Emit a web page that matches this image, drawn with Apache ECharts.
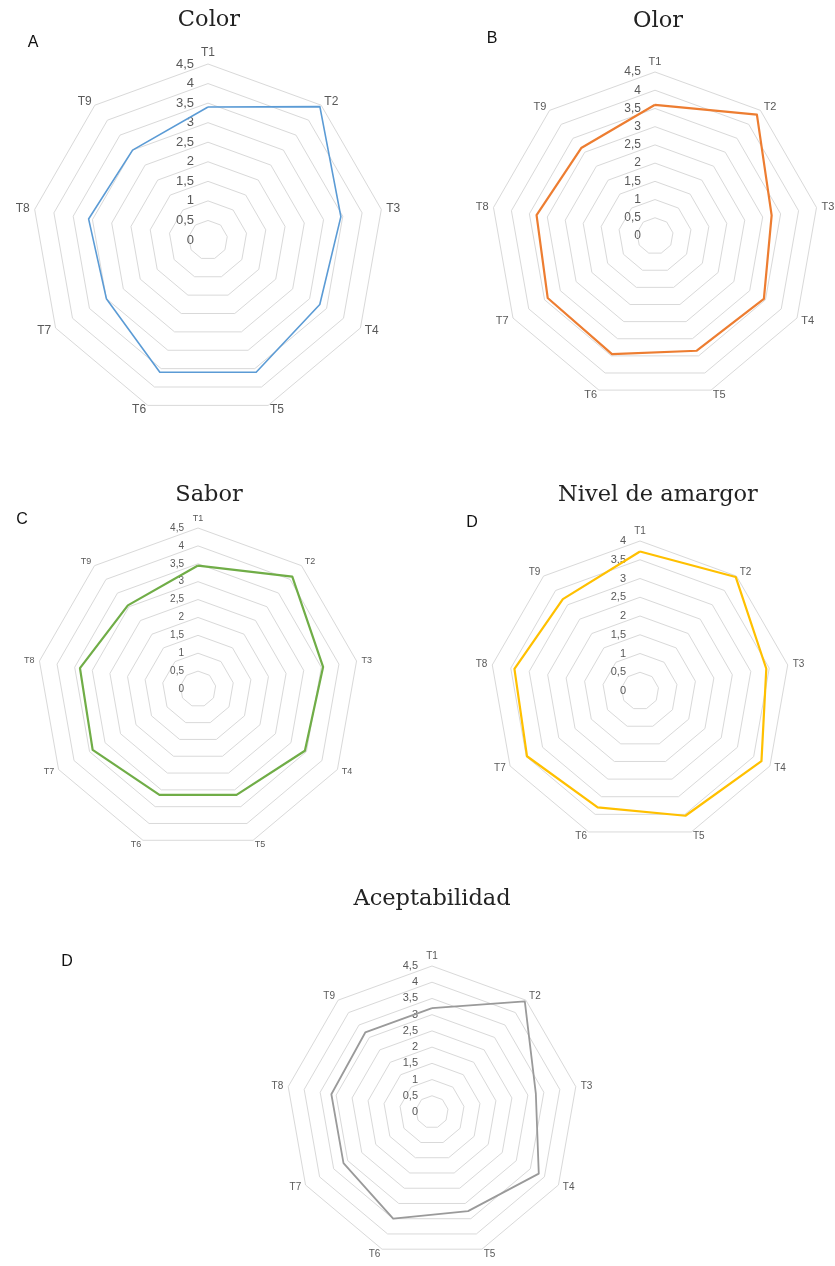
<!DOCTYPE html>
<html><head><meta charset="utf-8">
<script src="https://cdn.jsdelivr.net/npm/echarts@6/dist/echarts.min.js"></script>
<style>html,body{margin:0;padding:0;background:#fff}#c{width:835px;height:1266px}</style>
</head><body><div id="c"></div>
<script>
const categories = ['T1','T2','T3','T4','T5','T6','T7','T8','T9'];
const colorVals   = [3.4, 4.45, 3.45, 3.3, 3.6, 3.6, 3.0, 3.1, 3.0];
const olorVals    = [3.6, 4.35, 3.25, 3.45, 3.35, 3.45, 3.4, 3.3, 3.15];
const saborVals   = [3.45, 4.1, 3.55, 3.45, 3.15, 3.15, 3.4, 3.35, 3.05];
const amargorVals = [3.72, 3.97, 3.42, 3.74, 3.54, 3.3, 3.48, 3.4, 3.2];
const aceptVals   = [3.2, 4.45, 3.25, 3.8, 3.25, 3.5, 3.15, 3.15, 3.2];
const titles  = ['Color', 'Olor', 'Sabor', 'Nivel de amargor', 'Aceptabilidad'];
const letters = ['A', 'B', 'C', 'D', 'D'];
const axisMax = [4.5, 4.5, 4.5, 4, 4.5];
const seriesVals = [colorVals, olorVals, saborVals, amargorVals, aceptVals];

const panels = [
  {center:[208,240], r:176, nameSize:12, labelSize:13, color:'#5B9BD5', w:1.6, title:[209,20], letter:[33,43]},
  {center:[655,236], r:164, nameSize:11, labelSize:12, color:'#ED7D31', w:2.2, title:[658,21], letter:[492,39]},
  {center:[198,689], r:161, nameSize:9,  labelSize:10, color:'#70AD47', w:2.2, title:[209,495], letter:[22,520]},
  {center:[640,691], r:150, nameSize:10, labelSize:11, color:'#FFC000', w:2.2, title:[658,495], letter:[472,523]},
  {center:[432,1112], r:146, nameSize:10, labelSize:11, color:'#9a9a9a', w:1.8, title:[432,899], letter:[67,962]}
];

// ECharts draws radar axes counter-clockwise; reorder so T1..T9 run clockwise
const order = [0].concat(categories.map((_, k) => k).slice(1).reverse());
const fmt = v => String(v).replace('.', ',');
const radar = [], series = [], graphic = [];
panels.forEach((p, i) => {
  const steps = Math.round(axisMax[i] / 0.5);
  radar.push({
    center: p.center, radius: p.r, startAngle: 90, shape: 'polygon', splitNumber: steps,
    nameGap: 5,
    axisName: {color:'#595959', fontSize:p.nameSize, fontFamily:'Arial, Liberation Sans, sans-serif'},
    axisLine: {show:false}, axisTick: {show:false},
    axisLabel: {show:false},
    splitArea: {show:false},
    splitLine: {lineStyle:{color:'#d9d9d9', width:1}},
    indicator: order.map((k, j) => {
      const ind = {name:categories[k], min:0, max:axisMax[i]};
      if (j === 0) ind.axisLabel = {show:true, color:'#595959', fontSize:p.labelSize, fontFamily:'Arial, Liberation Sans, sans-serif', formatter: fmt, margin: 14, showMinLabel: true, showMaxLabel: true};
      return ind;
    })
  });
  series.push({
    type:'radar', radarIndex:i, symbol:'none',
    lineStyle:{color:p.color, width:p.w},
    itemStyle:{color:p.color},
    data:[{value:order.map(k => seriesVals[i][k]), name:titles[i]}]
  });
  graphic.push({type:'text', x:p.title[0], y:p.title[1], style:{text:titles[i], fill:'#222', font:'22.5px "DejaVu Serif", serif', align:'center', verticalAlign:'middle'}});
  graphic.push({type:'text', x:p.letter[0], y:p.letter[1], style:{text:letters[i], fill:'#111', font:'16px "Liberation Sans", Arial, sans-serif', align:'center', verticalAlign:'middle'}});
});

const chart = echarts.init(document.getElementById('c'), null, {renderer:'canvas'});
chart.setOption({backgroundColor:'#fff', animation:false, radar, series, graphic});
</script></body></html>
